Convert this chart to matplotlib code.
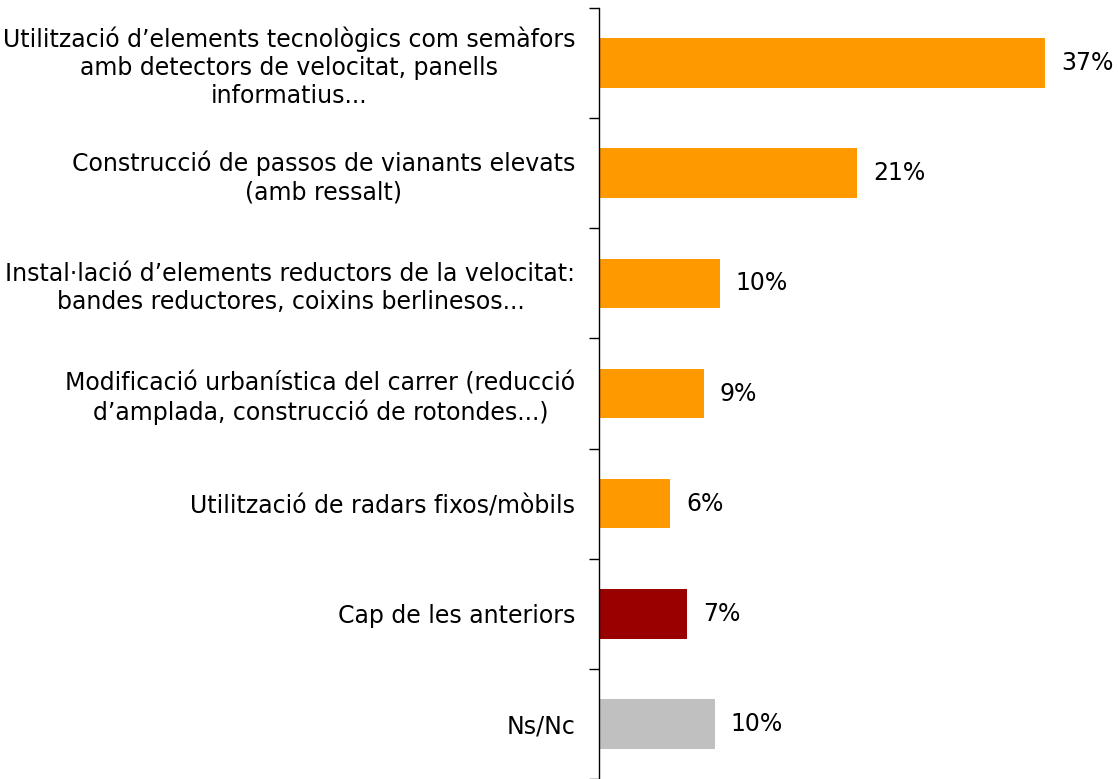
import matplotlib
matplotlib.use("Agg")
import matplotlib.pyplot as plt
import numpy as np

plt.rcParams['font.family'] = ['DejaVu Sans']

categories = [
    "Utilització d\u2019elements tecnològics com semàfors\namb detectors de velocitat, panells\ninformatius...",
    "Construcció de passos de vianants elevats\n(amb ressalt)",
    "Instal\u00b7lació d\u2019elements reductors de la velocitat:\nbandes reductores, coixins berlinesos...",
    "Modificació urbanística del carrer (reducció\nd\u2019amplada, construcció de rotondes...)",
    "Utilització de radars fixos/mòbils",
    "Cap de les anteriors",
    "Ns/Nc",
]
values = [37.0, 21.4, 10.0, 8.7, 5.9, 7.3, 9.6]
value_labels = ["37%", "21%", "10%", "9%", "6%", "7%", "10%"]
colors = ["#FF9900", "#FF9900", "#FF9900", "#FF9900", "#FF9900", "#990000", "#C0C0C0"]

W, H = 1118, 779
fig = plt.figure(figsize=(W / 100, H / 100), dpi=100)
ax_left = 599 / W
ax = fig.add_axes([ax_left, 0.0, 1 - ax_left, 1 - 8 / H])

y = np.arange(len(categories))
ax.barh(y, values, height=0.45, color=colors, edgecolor='none')
ax.set_ylim(len(categories) - 0.5, -0.5)
ax.set_xlim(0, (W - 599) / 12.05)

for yi, v, lab in zip(y, values, value_labels):
    ax.annotate(lab, (v, yi), xytext=(11.5, 0), textcoords='offset points',
                va='center', ha='left', fontsize=17, color='black')

for s in ['top', 'right', 'bottom']:
    ax.spines[s].set_visible(False)
ax.spines['left'].set_color('black')
ax.spines['left'].set_linewidth(1.0)
ax.set_xticks([])

ax.set_yticks(y)
ax.set_yticklabels(categories, fontsize=17, linespacing=1.2)
for t in ax.get_yticklabels():
    t.set_multialignment('center')
ax.tick_params(axis='y', which='major', length=0, pad=17)
ax.set_yticks(np.arange(-0.5, len(categories), 1.0), minor=True)
ax.tick_params(axis='y', which='minor', length=7, width=1, color='black', direction='out')

fig.savefig("out.png", dpi=100)
